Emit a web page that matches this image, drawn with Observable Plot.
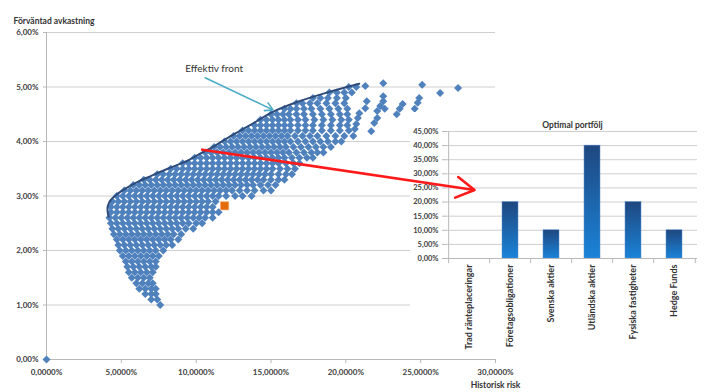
<!DOCTYPE html>
<html>
<head>
<meta charset="utf-8">
<script src="https://cdn.jsdelivr.net/npm/d3@7"></script>
<script src="https://cdn.jsdelivr.net/npm/@observablehq/plot@0.6"></script>
<style>
  body { margin: 0; background: #fff; }
  #wrap { position: relative; width: 705px; height: 392px; overflow: hidden; }
  #wrap svg { position: absolute; }
</style>
</head>
<body>
<div id="wrap"></div>
<script>
// Simulated portfolios: for each expected-return level (%), the historical risks (%) found at that level
const returnLevels = [0.0, 1.0, 1.1, 1.2, 1.3, 1.4, 1.5, 1.6, 1.7, 1.8, 1.9, 2.0, 2.1, 2.2, 2.3, 2.4, 2.5, 2.6, 2.7, 2.8, 2.9,
  3.0, 3.1, 3.2, 3.3, 3.4, 3.5, 3.6, 3.7, 3.8, 3.9, 4.0, 4.1, 4.2, 4.3, 4.4, 4.5, 4.6, 4.7, 4.8, 4.9, 5.0];
const riskRows = [
  "0.0",
  "7.6",
  "7.0 7.4",
  "6.6 7.0 7.3",
  "6.2 6.6 7.0 7.3",
  "6.0 6.4 6.8 7.1",
  "5.7 6.1 6.5 6.9",
  "5.5 5.9 6.3 6.7 7.1",
  "5.4 5.8 6.2 6.6 7.0 7.3",
  "5.3 5.7 6.1 6.5 6.9 7.3",
  "5.1 5.5 5.9 6.3 6.7 7.1 7.5",
  "4.9 5.3 5.7 6.1 6.5 6.9 7.3 7.8",
  "4.8 5.2 5.6 6.0 6.4 6.8 7.2 7.6 8.0 8.4",
  "4.7 5.1 5.5 5.9 6.3 6.7 7.1 7.5 7.9 8.3 8.8",
  "4.5 4.9 5.3 5.7 6.1 6.5 6.9 7.3 7.7 8.1 8.5 9.0",
  "4.4 4.8 5.2 5.6 6.0 6.4 6.8 7.2 7.6 8.0 8.4 8.8 9.3 9.8",
  "4.3 4.7 5.1 5.5 5.9 6.3 6.7 7.1 7.5 7.9 8.3 8.7 9.1 9.5 10.0 10.4",
  "4.2 4.6 5.0 5.4 5.8 6.2 6.6 7.0 7.4 7.8 8.2 8.6 9.0 9.4 9.8 10.2 10.6 11.1",
  "4.3 4.7 5.1 5.5 5.9 6.3 6.7 7.1 7.5 7.9 8.3 8.7 9.1 9.5 9.9 10.3 10.7 11.1 11.5",
  "4.3 4.7 5.1 5.5 5.9 6.3 6.7 7.1 7.5 7.9 8.3 8.7 9.1 9.5 9.9 10.3 10.7 11.1",
  "4.4 4.8 5.2 5.6 6.0 6.4 6.8 7.2 7.6 8.0 8.4 8.8 9.2 9.6 10.0 10.4 10.8 11.3",
  "4.7 5.1 5.5 5.9 6.3 6.7 7.1 7.5 7.9 8.3 8.7 9.1 9.5 9.9 10.3 10.7 11.1 11.5 12.0 12.6 13.1 13.7",
  "5.2 5.6 6.0 6.4 6.8 7.2 7.6 8.0 8.4 8.8 9.2 9.6 10.0 10.4 10.8 11.2 11.6 12.0 12.4 12.9 13.4 13.9 14.5 15.0",
  "5.8 6.2 6.6 7.0 7.4 7.8 8.2 8.6 9.0 9.4 9.8 10.2 10.6 11.0 11.4 11.8 12.2 12.6 13.0 13.4 13.8 14.3 14.8 15.3",
  "6.5 6.9 7.3 7.7 8.1 8.5 8.9 9.3 9.7 10.1 10.5 10.9 11.3 11.7 12.1 12.5 12.9 13.3 13.7 14.1 14.5 15.0 15.5 15.9",
  "7.4 7.8 8.2 8.6 9.0 9.4 9.8 10.2 10.6 11.0 11.4 11.8 12.2 12.6 13.0 13.4 13.8 14.2 14.6 15.0 15.5 16.0 16.4",
  "8.3 8.7 9.1 9.5 9.9 10.3 10.7 11.1 11.5 11.9 12.3 12.7 13.1 13.5 13.9 14.3 14.7 15.1 15.6 16.1 16.6",
  "9.1 9.5 9.9 10.3 10.7 11.1 11.5 11.9 12.3 12.7 13.1 13.5 13.9 14.3 14.7 15.1 15.5 16.0 16.5 16.9",
  "9.9 10.3 10.7 11.1 11.5 11.9 12.3 12.7 13.1 13.5 13.9 14.3 14.7 15.1 15.5 15.9 16.4 16.9 17.4 17.8",
  "10.6 11.0 11.4 11.8 12.2 12.6 13.0 13.4 13.8 14.2 14.6 15.0 15.4 15.8 16.2 16.7 17.2 17.7 18.1 18.5",
  "11.2 11.6 12.0 12.4 12.8 13.2 13.6 14.0 14.4 14.8 15.2 15.6 16.0 16.5 17.0 17.5 18.0 18.5 19.0",
  "11.9 12.3 12.7 13.1 13.5 13.9 14.3 14.7 15.1 15.5 15.9 16.3 16.8 17.3 17.8 18.3 18.8 19.3 19.7",
  "12.5 12.9 13.3 13.7 14.1 14.5 14.9 15.3 15.7 16.1 16.6 17.1 17.6 18.1 18.7 19.3 19.9 20.5",
  "13.1 13.5 13.9 14.3 14.7 15.1 15.5 15.9 16.3 16.8 17.3 17.8 18.4 19.0 19.6 20.2",
  "13.9 14.3 14.7 15.1 15.5 15.9 16.3 16.8 17.3 17.8 18.4 19.0 19.6 20.1",
  "14.3 14.7 15.1 15.5 15.9 16.3 16.8 17.3 17.9 18.5 19.1 19.7 20.2",
  "15.0 15.4 15.8 16.2 16.7 17.2 17.8 18.4 19.0 19.6 20.1",
  "15.9 16.3 16.7 17.2 17.7 18.3 18.9 19.5 20.1",
  "16.7 17.1 17.6 18.1 18.7 19.3 19.9",
  "17.8 18.3 18.8 19.4 20.0",
  "18.9 19.4 19.9 20.4",
  "20.2 20.7"
];

// High-risk portfolios lying in separate strands to the right
const strandRisk =   [21.3, 22.5, 25.1, 26.3, 27.5, 21.4, 21.3, 20.9, 20.8, 20.7, 20.6,
  22.5, 22.5, 22.3, 22.1, 22.1, 21.9, 21.7, 22.6, 23.8, 23.6, 23.4, 24.9, 24.8, 24.6];
const strandReturn = [5.02, 5.07, 5.04, 4.89, 4.98, 4.74, 4.61, 4.52, 4.43, 4.32, 4.23,
  4.83, 4.74, 4.65, 4.56, 4.43, 4.34, 4.19, 4.60, 4.69, 4.60, 4.50, 4.80, 4.71, 4.60];

// Efficient frontier
const frontierRisk =   [4.15, 4.08, 4.10, 4.30, 4.70, 5.30, 6.10, 7.00, 8.10, 9.20, 10.30, 11.30, 12.30, 13.60, 15.10, 16.70, 18.90, 20.90];
const frontierReturn = [2.62, 2.72, 2.82, 2.93, 3.03, 3.14, 3.26, 3.37, 3.50, 3.62, 3.78, 3.93, 4.10, 4.30, 4.54, 4.72, 4.91, 5.06];

// Current portfolio
const currentRisk = [11.9];
const currentReturn = [2.82];

// Optimal portfolio (the frontier point the red arrow leaves from)
const optimalRisk = 10.4;
const optimalReturn = 3.85;

// Optimal portfolio weights per asset class (%)
const assetClasses = ["Trad ränteplaceringar", "Företagsobligationer", "Svenska aktier",
  "Utländska aktier", "Fysiska fastigheter", "Hedge Funds"];
const optimalWeights = [0, 20, 10, 40, 20, 10];

// Axis ticks
const riskTicks = [0, 5, 10, 15, 20, 25, 30];
const returnTicks = [0, 1, 2, 3, 4, 5, 6];
const weightTicks = [0, 5, 10, 15, 20, 25, 30, 35, 40, 45];

const fmtRisk = d => d.toFixed(4).replace(".", ",") + "%";
const fmtPct = d => d.toFixed(2).replace(".", ",") + "%";

const portfolios = [];
returnLevels.forEach((r, i) => riskRows[i].split(" ").forEach(s => portfolios.push({risk: +s, ret: r})));
strandRisk.forEach((x, i) => portfolios.push({risk: x, ret: strandReturn[i]}));
const frontier = frontierRisk.map((x, i) => ({risk: x, ret: frontierReturn[i]}));
const current = currentRisk.map((x, i) => ({risk: x, ret: currentReturn[i]}));
const weights = assetClasses.map((c, i) => ({cls: c, w: optimalWeights[i]}));

const font = "Lato, 'Open Sans', sans-serif";
const frameOpts = {
  width: 705, height: 392,
  marginLeft: 46, marginRight: 210, marginTop: 32, marginBottom: 33
};

const main = Plot.plot({
  ...frameOpts,
  style: {fontFamily: font, fontSize: "8px", fontWeight: "bold", color: "#404040", background: "#fff", overflow: "visible"},
  x: {domain: [0, 30], axis: null},
  y: {domain: [0, 6], axis: null},
  marks: [
    Plot.ruleY(returnTicks.filter(d => d > 0), {stroke: "#cfcfcf"}),
    Plot.ruleX([0], {stroke: "#b8b8b8"}),
    Plot.ruleY([0], {stroke: "#b8b8b8"}),
    Plot.axisX({ticks: riskTicks, tickFormat: fmtRisk, tickSize: 4, tickPadding: 6, stroke: "#b8b8b8", fill: "#404040", fontSize: 8, fontWeight: "bold", label: null}),
    Plot.axisY({ticks: returnTicks, tickFormat: fmtPct, tickSize: 3, tickPadding: 5, stroke: "#b8b8b8", fill: "#404040", fontSize: 8, fontWeight: "bold", label: null}),
    Plot.dot(portfolios, {x: "risk", y: "ret", symbol: "diamond2", r: 3.6, fill: "#4F81BD"}),
    Plot.line(frontier, {x: "risk", y: "ret", curve: "catmull-rom", stroke: "#2E4B7A", strokeWidth: 2}),
    Plot.dot(current, {x: "risk", y: "ret", symbol: "square", r: 4.6, fill: "#E46C0A", stroke: "#F2A060", strokeWidth: 0.6}),
    Plot.arrow([0], {x1: 10.6, y1: 5.17, x2: 15.13, y2: 4.58, stroke: "#4BACC6", strokeWidth: 1.6, headLength: 8}),
    Plot.text(["Effektiv front"], {x: 11.2, y: 5.33, fontSize: 10, fontWeight: "normal", fill: "#333"}),
    Plot.text(["Förväntad avkastning"], {frameAnchor: "top-left", dx: -33, dy: -15, textAnchor: "start", fontSize: 8.5, fill: "#333"}),
    Plot.text(["Historisk risk"], {frameAnchor: "bottom-right", dy: 28, textAnchor: "middle", fontSize: 8.5, fill: "#333"})
  ]
});
main.style.left = "0px";
main.style.top = "0px";

// Inset: composition of the optimal portfolio
const half = 250 / 6 / 2;
const inset = Plot.plot({
  width: 295, height: 245,
  marginLeft: 37, marginRight: 8, marginTop: 19, marginBottom: 99,
  style: {fontFamily: font, fontSize: "8px", fontWeight: "bold", color: "#404040", background: "#fff"},
  x: {domain: assetClasses, paddingInner: 0.6, paddingOuter: 0.3, axis: null},
  y: {domain: [0, 45], axis: null},
  marks: [
    Plot.ruleY(weightTicks.filter(d => d > 0), {stroke: "#cfcfcf"}),
    Plot.ruleX([assetClasses[0]], {dx: -half, stroke: "#b8b8b8"}),
    Plot.axisY({ticks: weightTicks, tickFormat: fmtPct, tickSize: 5, tickPadding: 4, stroke: "#b8b8b8", fill: "#404040", fontSize: 7.5, fontWeight: "bold", label: null}),
    Plot.barY(weights, {x: "cls", y: "w", fill: "url(#barGrad)", stroke: "#5b8fd0", strokeWidth: 0.5}),
    Plot.ruleY([0], {stroke: "#b8b8b8"}),
    Plot.ruleX(assetClasses, {dx: -half, y1: 0, y2: -1.8, stroke: "#b8b8b8"}),
    Plot.ruleX([assetClasses[assetClasses.length - 1]], {dx: half, y1: 0, y2: -1.8, stroke: "#b8b8b8"}),
    Plot.axisX({tickRotate: -90, tickSize: 0, tickPadding: 6, fill: "#333", fontSize: 9, fontWeight: "bold", label: null}),
    Plot.text(["Optimal portfölj"], {frameAnchor: "top", dy: -10, fontSize: 8.5, fill: "#333"})
  ]
});
const defs = d3.select(inset).insert("defs", ":first-child");
const grad = defs.append("linearGradient").attr("id", "barGrad")
  .attr("x1", 0).attr("y1", 0).attr("x2", 0).attr("y2", 1);
grad.append("stop").attr("offset", "0%").attr("stop-color", "#1F477F");
grad.append("stop").attr("offset", "100%").attr("stop-color", "#1A83D8");
inset.style.left = "410px";
inset.style.top = "112px";

// Arrow from the optimal point on the frontier to the composition chart
const overlay = Plot.plot({
  ...frameOpts,
  style: {background: "transparent", overflow: "visible"},
  x: {domain: [0, 30], axis: null},
  y: {domain: [0, 6], axis: null},
  marks: [
    Plot.arrow([0], {x1: optimalRisk, y1: optimalReturn, x2: 28.6, y2: 3.11, stroke: "#FF1A1A", strokeWidth: 2.6, headLength: 12})
  ]
});
overlay.style.left = "0px";
overlay.style.top = "0px";
overlay.style.pointerEvents = "none";

const wrap = document.getElementById("wrap");
wrap.append(main, inset, overlay);
</script>
</body>
</html>
